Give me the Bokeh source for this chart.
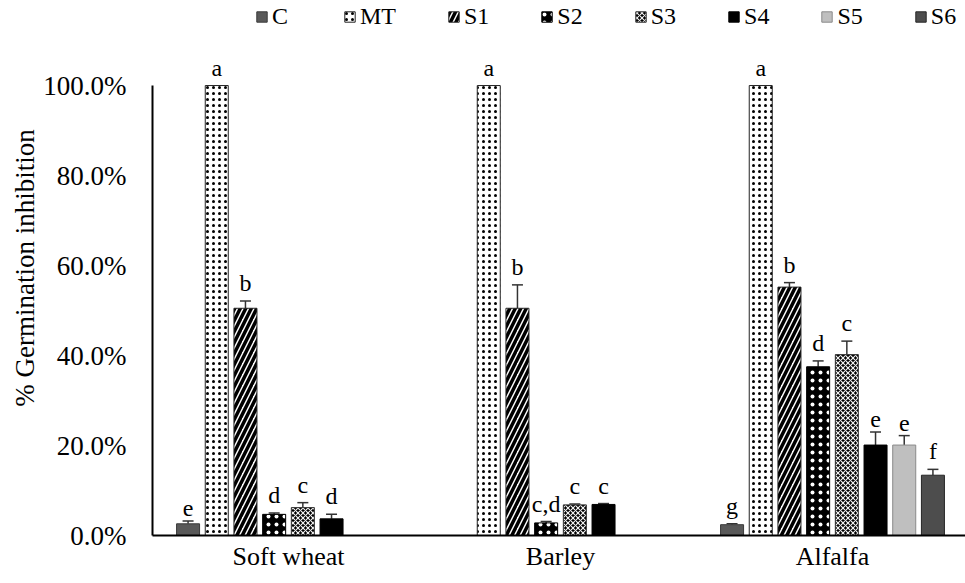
from bokeh.plotting import figure
from bokeh.models import (ColumnDataSource, Range1d, FixedTicker, NumeralTickFormatter,
                          Whisker, TeeHead, Legend, LegendItem)
from bokeh.core.properties import value
from bokeh.embed import file_html
from bokeh.resources import INLINE

# ---------------- data ----------------
categories = ["Soft wheat", "Barley", "Alfalfa"]
series = ["C", "MT", "S1", "S2", "S3", "S4", "S5", "S6"]

# % germination inhibition (mean) per category
C_vals = [2.6, 0.0, 2.4]
MT_vals = [100.0, 100.0, 100.0]
S1_vals = [50.5, 50.5, 55.2]
S2_vals = [4.7, 2.8, 37.5]
S3_vals = [6.2, 6.8, 40.2]
S4_vals = [3.7, 6.9, 20.1]
S5_vals = [0.0, 0.0, 20.1]
S6_vals = [0.0, 0.0, 13.4]

# error (upper) per category
C_err = [0.6, 0.0, 0.2]
MT_err = [0.0, 0.0, 0.0]
S1_err = [1.6, 5.2, 1.0]
S2_err = [0.3, 0.3, 1.3]
S3_err = [1.1, 0.2, 3.0]
S4_err = [1.0, 0.2, 2.9]
S5_err = [0.0, 0.0, 2.1]
S6_err = [0.0, 0.0, 1.3]

# significance letters
C_let = ["e", "", "g"]
MT_let = ["a", "a", "a"]
S1_let = ["b", "b", "b"]
S2_let = ["d", "c,d", "d"]
S3_let = ["c", "c", "c"]
S4_let = ["d", "c", "e"]
S5_let = ["", "", "e"]
S6_let = ["", "", "f"]

y_ticks = [0.0, 0.2, 0.4, 0.6, 0.8, 1.0]

all_vals = [C_vals, MT_vals, S1_vals, S2_vals, S3_vals, S4_vals, S5_vals, S6_vals]
all_err = [C_err, MT_err, S1_err, S2_err, S3_err, S4_err, S5_err, S6_err]
all_let = [C_let, MT_let, S1_let, S2_let, S3_let, S4_let, S5_let, S6_let]

# ---------------- styles ----------------
styles = {
    "C":  dict(fill_color="#595959", line_color="#3a3a3a"),
    "MT": dict(fill_color="white", line_color="#222222", hatch_pattern="dot",
               hatch_color="black", hatch_scale=6, hatch_weight=1.0),
    "S1": dict(fill_color="white", line_color="#222222", hatch_pattern="right_diagonal_line",
               hatch_color="black", hatch_scale=11, hatch_weight=3.5),
    "S2": dict(fill_color="black", line_color="black", hatch_pattern="dot",
               hatch_color="white", hatch_scale=8, hatch_weight=1.6),
    "S3": dict(fill_color="black", line_color="#333333", hatch_pattern="diagonal_cross",
               hatch_color="#f0f0f0", hatch_scale=5, hatch_weight=1.2),
    "S4": dict(fill_color="black", line_color="black"),
    "S5": dict(fill_color="#bfbfbf", line_color="#8a8a8a"),
    "S6": dict(fill_color="#4d4d4d", line_color="#262626"),
}

FONT = "Liberation Serif"
pitch = 0.1055
bar_w = 0.0846

p = figure(width=965, height=583, output_backend="svg", toolbar_location=None,
           x_range=Range1d(-0.5, 2.489), y_range=Range1d(0, 1.189),
           min_border_left=152, min_border_right=0, min_border_top=0, min_border_bottom=48)
p.outline_line_color = None
p.xgrid.grid_line_color = None
p.ygrid.grid_line_color = None
p.background_fill_color = "white"

legend_items = []
for i, s in enumerate(series):
    xs, tops, ups, lets = [], [], [], []
    for g in range(len(categories)):
        v = all_vals[i][g]
        if v <= 0:
            continue
        xs.append(g + (i - 3.5) * pitch)
        tops.append(v / 100.0)
        ups.append((v + all_err[i][g]) / 100.0)
        lets.append(all_let[i][g])
    src = ColumnDataSource(dict(x=xs, top=tops))
    r = p.vbar(x="x", top="top", width=bar_w, bottom=0, source=src, line_width=1, **styles[s])
    legend_items.append(LegendItem(label=s, renderers=[r]))

    # error bars (upper only)
    eidx = [k for k in range(len(xs)) if ups[k] > tops[k]]
    esrc = ColumnDataSource(dict(x=[xs[k] for k in eidx], lo=[tops[k] for k in eidx],
                                 hi=[ups[k] for k in eidx]))
    p.add_layout(Whisker(base="x", lower="lo", upper="hi", source=esrc, dimension="height",
                         line_color="#333333", line_width=1.5,
                         upper_head=TeeHead(size=11, line_color="#333333", line_width=1.5),
                         lower_head=None))

    # letters
    lidx = [k for k in range(len(xs)) if lets[k]]
    lsrc = ColumnDataSource(dict(x=[xs[k] for k in lidx], y=[ups[k] for k in lidx],
                                 t=[lets[k] for k in lidx]))
    p.text(x="x", y="y", text="t", source=lsrc, text_font=value(FONT),
           text_font_size="24px", text_align="center", text_baseline="bottom",
           y_offset=-5, text_color="black")

legend = Legend(items=legend_items, orientation="horizontal", location=(103, 505),
                label_text_font=FONT, label_text_font_size="24px", label_standoff=4,
                label_text_color="black",
                spacing=51, glyph_width=13, glyph_height=13, padding=0, margin=0,
                border_line_color=None, background_fill_alpha=0)
p.add_layout(legend)

# axes
p.yaxis.bounds = (0, 1.0)
p.yaxis.ticker = FixedTicker(ticks=y_ticks)
p.yaxis.formatter = NumeralTickFormatter(format="0.0%")
p.yaxis.axis_label = "% Germination inhibition"
p.yaxis.axis_label_text_font = FONT
p.yaxis.axis_label_text_font_style = "normal"
p.yaxis.axis_label_text_font_size = "27px"
p.yaxis.axis_label_text_color = "black"
p.yaxis.axis_label_standoff = 0
p.yaxis.major_label_text_font = FONT
p.yaxis.major_label_text_font_size = "27px"
p.yaxis.major_label_standoff = 26
p.yaxis.axis_line_width = 2
p.yaxis.axis_line_color = "black"

p.xaxis.ticker = FixedTicker(ticks=[0, 1, 2])
p.xaxis.major_label_overrides = {0: categories[0], 1: categories[1], 2: categories[2]}
p.xaxis.major_label_text_font = FONT
p.xaxis.major_label_text_font_size = "26px"
p.xaxis.major_label_standoff = 6
p.xaxis.axis_line_width = 2
p.xaxis.axis_line_color = "black"

for ax in (p.xaxis, p.yaxis):
    ax.major_tick_line_color = None
    ax.minor_tick_line_color = None
    ax.major_tick_out = 0
    ax.major_tick_in = 0
    ax.minor_tick_out = 0
    ax.minor_tick_in = 0
    ax.major_label_text_color = "black"

open("out.html", "w").write(file_html(p, INLINE))
